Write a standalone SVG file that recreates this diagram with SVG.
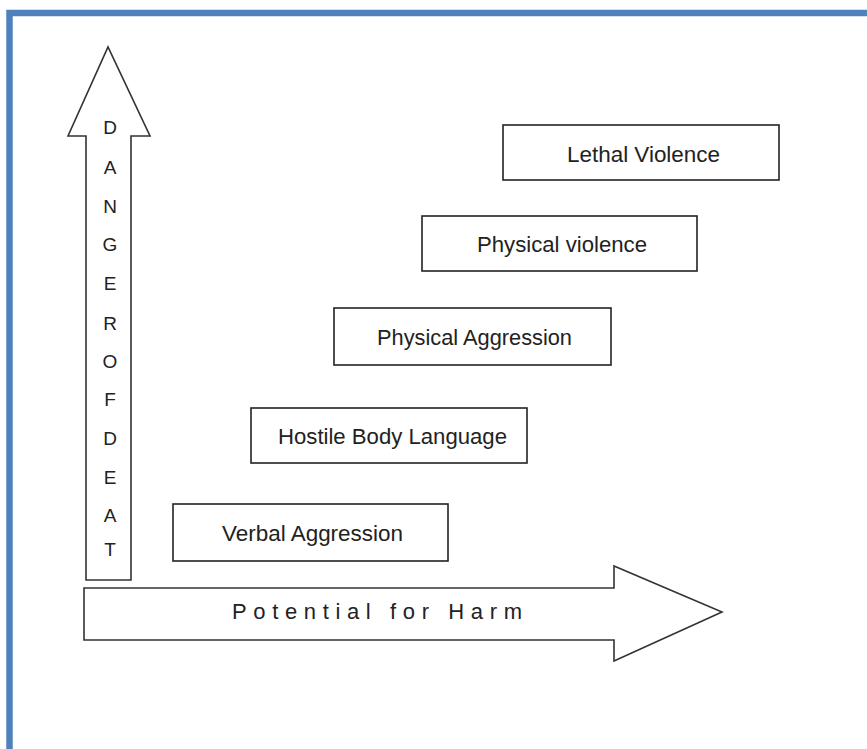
<svg xmlns="http://www.w3.org/2000/svg" width="867" height="749" viewBox="0 0 867 749">
<style>
.frame{fill:none;stroke:#4f81bd;stroke-width:6.5}
.arrow{fill:#fff;stroke:#333;stroke-width:1.6;stroke-linejoin:miter}
.box{fill:#fff;stroke:#222;stroke-width:1.6}
.lbl{font-family:"Liberation Sans",Arial,sans-serif;font-size:22px;fill:#222;text-anchor:middle}
.vl{font-family:"Liberation Sans",Arial,sans-serif;font-size:19px;fill:#222;text-anchor:middle}
.hl{font-family:"Liberation Sans",Arial,sans-serif;font-size:22px;fill:#222}
</style>
<rect width="867" height="749" fill="#fff"/>
<rect class="frame" x="9.5" y="13" width="900" height="800"/>
<g id="axis-danger">
<path class="arrow" d="M86,580 L86,136 L68,136 L108,47 L150,136 L131,136 L131,580 Z"/>
<text class="vl" x="110" y="134">D</text>
<text class="vl" x="110" y="174">A</text>
<text class="vl" x="110" y="213">N</text>
<text class="vl" x="110" y="251">G</text>
<text class="vl" x="110" y="290">E</text>
<text class="vl" x="110" y="330">R</text>
<text class="vl" x="110" y="368">O</text>
<text class="vl" x="110" y="406">F</text>
<text class="vl" x="110" y="445">D</text>
<text class="vl" x="110" y="484">E</text>
<text class="vl" x="110" y="522">A</text>
<text class="vl" x="110" y="556">T</text>
</g>
<g id="axis-harm">
<path class="arrow" d="M84,588 L614,588 L614,566 L722,612 L614,661 L614,640 L84,640 Z"/>
<text class="hl" x="232" y="619" textLength="290" lengthAdjust="spacing">Potential for Harm</text>
</g>
<g id="lethal-violence">
<rect class="box" x="503" y="125" width="276" height="55"/>
<text class="lbl" x="643.5" y="162" textLength="153" lengthAdjust="spacingAndGlyphs">Lethal Violence</text>
</g>
<g id="physical-violence">
<rect class="box" x="422" y="216" width="275" height="55"/>
<text class="lbl" x="562" y="252" textLength="170" lengthAdjust="spacingAndGlyphs">Physical violence</text>
</g>
<g id="physical-aggression">
<rect class="box" x="334" y="308" width="277" height="57"/>
<text class="lbl" x="474.5" y="345" textLength="195" lengthAdjust="spacingAndGlyphs">Physical Aggression</text>
</g>
<g id="hostile-body-language">
<rect class="box" x="251" y="408" width="276" height="55"/>
<text class="lbl" x="392.5" y="444" textLength="229" lengthAdjust="spacingAndGlyphs">Hostile Body Language</text>
</g>
<g id="verbal-aggression">
<rect class="box" x="173" y="504" width="275" height="57"/>
<text class="lbl" x="312.5" y="541" textLength="181" lengthAdjust="spacingAndGlyphs">Verbal Aggression</text>
</g>
<g id="connectors"></g>
</svg>
